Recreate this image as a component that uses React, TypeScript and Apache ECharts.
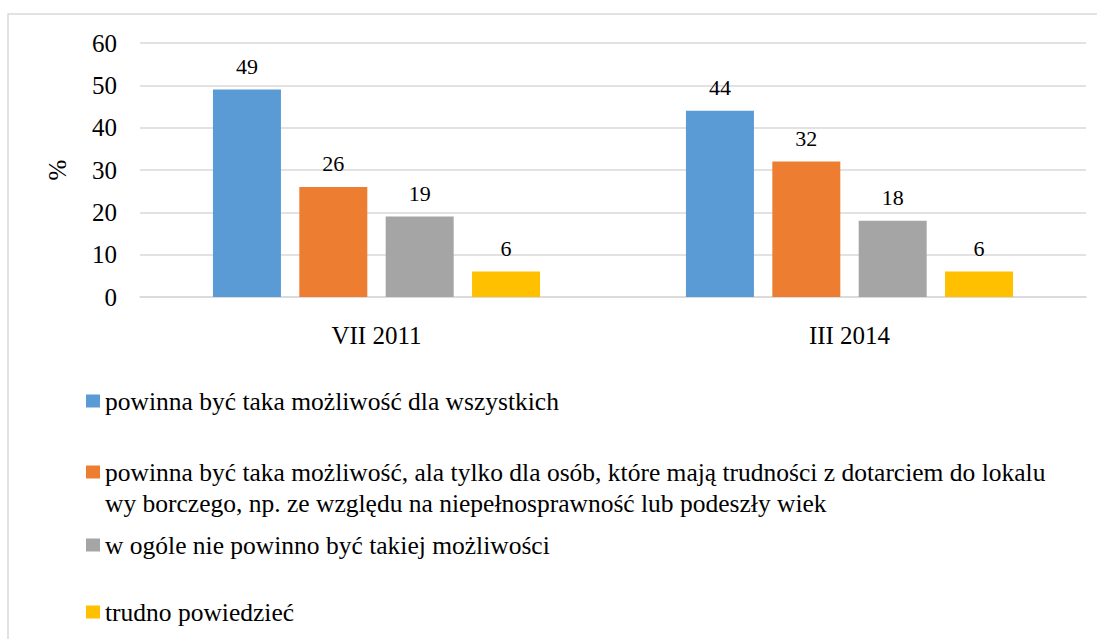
import React, { useEffect, useRef } from "react";
import * as echarts from "echarts";

const categories = ["VII 2011", "III 2014"];
const seriesNames = [
  "powinna być taka możliwość dla wszystkich",
  "powinna być taka możliwość, ala tylko dla osób, które mają trudności z dotarciem do lokalu",
  "w ogóle nie powinno być takiej możliwości",
  "trudno powiedzieć",
];
const legendSecondLine = "wy borczego, np. ze względu na niepełnosprawność lub podeszły wiek";
const valuesAll = [49, 44];
const valuesLimited = [26, 32];
const valuesNone = [19, 18];
const valuesHard = [6, 6];
const colors = ["#5B9BD5", "#ED7D31", "#A5A5A5", "#FFC000"];
const yTicks = { min: 0, max: 60, interval: 10 };
const yName = "%";

const FONT = "Liberation Serif";

export default function App() {
  const ref = useRef<HTMLDivElement>(null);
  useEffect(() => {
    if (!ref.current) return;
    const chart = echarts.init(ref.current, undefined, { renderer: "svg" });
    const seriesData = [valuesAll, valuesLimited, valuesNone, valuesHard];
    const legendTops = [401, 472, 545, 612];
    chart.setOption({
      animation: false,
      backgroundColor: "#fff",
      textStyle: { fontFamily: FONT },
      grid: { left: 140, right: 11, top: 43, bottom: 342, containLabel: false },
      xAxis: {
        type: "category",
        data: categories,
        axisLine: { lineStyle: { color: "#d9d9d9", width: 1.5 } },
        axisTick: { show: false },
        axisLabel: { color: "#000", fontFamily: FONT, fontSize: 25, margin: 26 },
      },
      yAxis: {
        type: "value",
        min: yTicks.min,
        max: yTicks.max,
        interval: yTicks.interval,
        name: yName,
        nameLocation: "middle",
        nameGap: 70,
        nameRotate: 90,
        nameTextStyle: { color: "#000", fontFamily: FONT, fontSize: 25 },
        axisLine: { show: false },
        axisTick: { show: false },
        axisLabel: { color: "#000", fontFamily: FONT, fontSize: 25, margin: 23 },
        splitLine: { lineStyle: { color: "#d9d9d9", width: 1.5 } },
      },
      legend: seriesNames.map((n, i) => ({
        data: [n],
        left: 86,
        top: legendTops[i] - 15,
        padding: 0,
        icon: "rect",
        itemWidth: 14,
        itemHeight: 13,
        selectedMode: false,
        textStyle: { color: "#000", fontFamily: FONT, fontSize: 25.5, lineHeight: 30 },
      })),
      graphic: [
        {
          type: "rect",
          silent: true,
          shape: { x: 8, y: 14, width: 1300, height: 800 },
          style: { fill: "none", stroke: "#d9d9d9", lineWidth: 1.5 },
        },
        {
          type: "text",
          left: 105,
          top: 503 - 15,
          silent: true,
          style: {
            text: legendSecondLine,
            fill: "#000",
            fontFamily: FONT,
            fontSize: 25.5,
            lineHeight: 30,
          },
        },
      ],
      series: seriesNames.map((n, i) => ({
        name: n,
        type: "bar",
        data: seriesData[i],
        barWidth: 68,
        barGap: "27%",
        itemStyle: { color: colors[i] },
        label: {
          show: true,
          position: "top",
          distance: 12,
          color: "#000",
          fontFamily: FONT,
          fontSize: 22,
        },
      })),
    });
    return () => chart.dispose();
  }, []);
  return (
    <div
      ref={ref}
      style={{ position: "absolute", left: 0, top: 0, width: 1097, height: 639 }}
    />
  );
}
